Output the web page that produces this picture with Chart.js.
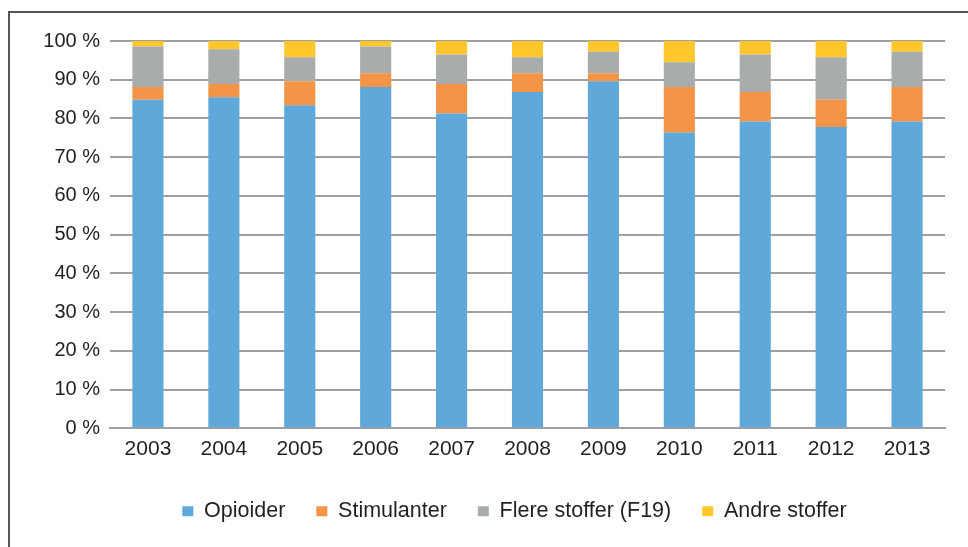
<!DOCTYPE html>
<html>
<head>
<meta charset="utf-8">
<script src="https://cdn.jsdelivr.net/npm/chart.js@4/dist/chart.umd.min.js"></script>
<style>
  html, body { margin: 0; padding: 0; background: #fff; }
  #wrap { position: relative; width: 968px; height: 547px; overflow: hidden; }
  #frame {
    position: absolute; left: 8px; top: 11px; width: 1000px; height: 600px;
    border-left: 2px solid #555; border-top: 2px solid #555;
  }
  canvas { position: absolute; left: 0; top: 0; }
</style>
</head>
<body>
<div id="wrap">
  <div id="frame"></div>
  <canvas id="chart" width="968" height="547"></canvas>
</div>
<script>
/* ---- Data (shares in %) ---- */
const years = ["2003", "2004", "2005", "2006", "2007", "2008", "2009", "2010", "2011", "2012", "2013"];
const opioider    = [84.8, 85.5, 83.4, 88.1, 81.3, 86.8, 89.6, 76.4, 79.2, 77.8, 79.2];
const stimulanter = [3.3, 3.4, 6.2, 3.6, 7.6, 4.9, 2.1, 11.7, 7.6, 7.0, 8.9];
const flereStoffer = [10.5, 9.0, 6.2, 6.9, 7.6, 4.1, 5.5, 6.4, 9.7, 11.0, 9.1];
const andreStoffer = [1.4, 2.1, 4.2, 1.4, 3.5, 4.2, 2.8, 5.5, 3.5, 4.2, 2.8];

const ink = "#231f20";
const gridColor = "#a0a0a0";

Chart.defaults.font.family = "'Liberation Sans', Arial, sans-serif";
Chart.defaults.font.size = 20;
Chart.defaults.color = ink;

function bar(label, data, color) {
  return {
    label,
    data,
    backgroundColor: color,
    borderWidth: 0,
    barPercentage: 0.41,
    categoryPercentage: 1,
  };
}

// legend in the original sits a bit right of centre
const legendShift = {
  id: "legendShift",
  afterLayout(chart) {
    if (!chart.legend) return;
    chart.legend.left += 42;
    chart.legend.right += 42;
  },
};

new Chart(document.getElementById("chart"), {
  type: "bar",
  data: {
    labels: years,
    datasets: [
      bar("Opioider", opioider, "#5fa8da"),
      bar("Stimulanter", stimulanter, "#f39447"),
      bar("Flere stoffer (F19)", flereStoffer, "#a9acad"),
      bar("Andre stoffer", andreStoffer, "#ffc72c"),
    ],
  },
  plugins: [legendShift],
  options: {
    responsive: false,
    animation: false,
    layout: { padding: { left: 0, right: 23, top: 41, bottom: 15 } },
    plugins: {
      tooltip: { enabled: false },
      legend: {
        position: "bottom",
        labels: {
          boxWidth: 11,
          boxHeight: 10,
          padding: 31,
          color: ink,
          font: { size: 21.5 },
        },
      },
    },
    scales: {
      x: {
        stacked: true,
        grid: { display: false, drawTicks: false },
        border: { color: gridColor, width: 2 },
        ticks: { padding: 8, color: ink, font: { size: 21 } },
      },
      y: {
        stacked: true,
        min: 0,
        max: 100,
        afterFit: (axis) => { axis.width = 110; },
        grid: { color: gridColor, lineWidth: 2, drawTicks: false },
        border: { display: false },
        ticks: {
          stepSize: 10,
          padding: 10,
          color: ink,
          callback: (v) => `${v} %`,
        },
      },
    },
  },
});
</script>
</body>
</html>
